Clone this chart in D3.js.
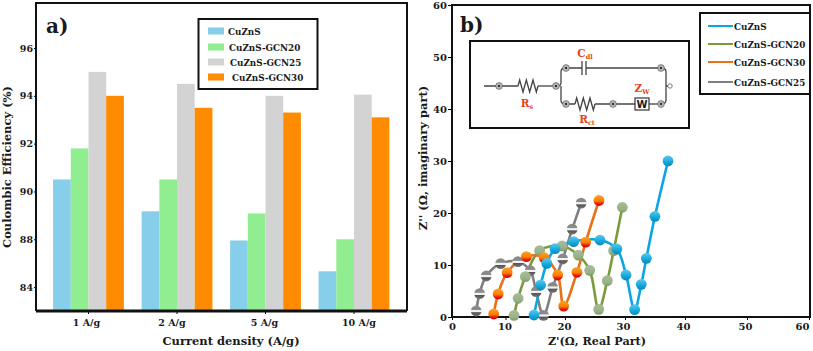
<!DOCTYPE html>
<html>
<head>
<meta charset="utf-8">
<script src="https://cdn.jsdelivr.net/npm/d3@7"></script>
<style>
  body { margin: 0; background: #fff; }
  svg { display: block; }
  text { font-family: "DejaVu Serif", serif; font-weight: bold; fill: #1a1a1a; }
</style>
</head>
<body>
<div id="chart"></div>
<script>
// Panel a data
const CATEGORIES = ["1 A/g", "2 A/g", "5 A/g", "10 A/g"];
const BAR_SERIES = ["CuZnS", "CuZnS-GCN20", "CuZnS-GCN25", "CuZnS-GCN30"];
const CUZNS_EFF = [90.5, 89.17, 87.95, 86.66];
const GCN20_EFF = [91.8, 90.5, 89.08, 88];
const GCN25_EFF = [95, 94.5, 94, 94.05];
const GCN30_EFF = [94, 93.5, 93.3, 93.1];
// the source figure prints 84 where 86 would sit
const Y_TICKS_A = [86, 88, 90, 92, 94, 96];
const Y_LABELS_A = ["84", "88", "90", "92", "94", "96"];

// Panel b data
const X_TICKS_B = [0, 10, 20, 30, 40, 50, 60];
const Y_TICKS_B = [0, 10, 20, 30, 40, 50, 60];
const LINE_LEGEND = ["CuZnS", "CuZnS-GCN20", "CuZnS-GCN30", "CuZnS-GCN25"];
const CUZNS_RE = [14.79, 15.9, 16.94, 18.33, 21.45, 25.83, 28.64, 30.17, 31.61, 32.71, 33.56, 34.99, 37.17];
const CUZNS_IM = [0.38, 6.15, 10.3, 13.14, 14.5, 14.8, 13.08, 8.08, 1.41, 6.28, 11.28, 19.36, 30];
const GCN20_RE = [11.44, 12.12, 13.34, 15.73, 19.51, 22.22, 24.12, 25.62, 27.05, 28.11, 29.56];
const GCN20_IM = [0.32, 3.6, 7.76, 12.76, 13.65, 11.9, 8.97, 1.47, 6.99, 12.76, 21.1];
const GCN30_RE = [7.8, 8.62, 10.28, 13.51, 16.5, 18.78, 19.78, 22.0, 23.45, 25.66];
const GCN30_IM = [0.58, 4.42, 8.53, 11.6, 11.4, 8.08, 2.1, 8.6, 14.4, 22.4];
const GCN25_RE = [4.52, 5.16, 6.4, 9.09, 12.08, 14.16, 15.15, 16.39, 17.93, 19.62, 21.2, 22.69];
const GCN25_IM = [1.15, 4.49, 7.88, 10.26, 10.64, 8.9, 4.87, 0.32, 5.7, 11.15, 16.9, 21.9];

const WIDTH = 813;
const HEIGHT = 351;
const BAR_COLORS = ["#87ceeb", "#90ee90", "#d3d3d3", "#ff8c00"];
const RED_TEXT = "#e8431a";

const svg = d3.select("#chart").append("svg")
  .attr("width", WIDTH)
  .attr("height", HEIGHT);

const defs = svg.append("defs");

function addGradient(id, stops) {
  const g = defs.append("linearGradient").attr("id", id)
    .attr("x1", 0).attr("y1", 0).attr("x2", 0).attr("y2", 1);
  stops.forEach(s => g.append("stop").attr("offset", s[0]).attr("stop-color", s[1]));
}
addGradient("markBlue", [[0, "#5fc8ee"], [0.6, "#12a8dc"], [1, "#0a86b8"]]);
addGradient("markGreen", [[0, "#a9bd98"], [0.7, "#98b088"], [1, "#7d9a5e"]]);
addGradient("markOrange", [[0, "#f5a623"], [0.55, "#ff7a00"], [0.8, "#e8140a"], [1, "#c80a0a"]]);
addGradient("markGrey", [[0, "#8a8a8a"], [0.38, "#8a8a8a"], [0.45, "#f2f2f2"], [0.58, "#f2f2f2"], [0.65, "#555"], [1, "#777"]]);

// ---- Panel a ----
const FRAME_A = {left: 36, right: 407, top: 3, bottom: 311};

const xA = d3.scaleBand()
  .domain(CATEGORIES)
  .range([44.25, 398.25])
  .paddingInner(0.2)
  .paddingOuter(0.1)
  .align(0.5);

const yA = d3.scaleLinear()
  .domain([96, 85])
  .range([48, FRAME_A.bottom]);

const xSub = d3.scaleBand()
  .domain(BAR_SERIES)
  .range([0, xA.bandwidth()]);

const barValues = [CUZNS_EFF, GCN20_EFF, GCN25_EFF, GCN30_EFF];

BAR_SERIES.forEach((name, i) => {
  svg.append("g").selectAll("rect")
    .data(barValues[i])
    .enter()
    .append("rect")
      .attr("x", (d, j) => xA(CATEGORIES[j]) + xSub(name))
      .attr("y", d => yA(d))
      .attr("width", xSub.bandwidth())
      .attr("height", d => FRAME_A.bottom - yA(d))
      .attr("fill", BAR_COLORS[i]);
});

const axisLeftA = svg.append("g")
  .attr("transform", "translate(" + FRAME_A.left + ",0)")
  .call(d3.axisLeft(yA)
    .tickValues(Y_TICKS_A)
    .tickFormat((d, i) => Y_LABELS_A[i])
    .tickSize(2)
    .tickPadding(1));
axisLeftA.select(".domain").remove();
axisLeftA.selectAll("text").attr("font-size", "9.5px");

const axisBottomA = svg.append("g")
  .attr("transform", "translate(0," + FRAME_A.bottom + ")")
  .call(d3.axisBottom(xA).tickSize(3).tickPadding(5));
axisBottomA.select(".domain").remove();
// labels sit slightly off their ticks in the source
const X_LABEL_SHIFT_A = [-2, -5, -1, 5];
axisBottomA.selectAll("text")
  .attr("font-size", "9.5px")
  .attr("dx", (d, i) => X_LABEL_SHIFT_A[i]);

svg.append("path")
  .attr("d", "M" + FRAME_A.left + "," + FRAME_A.bottom + "V" + FRAME_A.top + "H" + FRAME_A.right + "V" + FRAME_A.bottom)
  .attr("fill", "none").attr("stroke", "#111").attr("stroke-width", 2);
svg.append("line")
  .attr("x1", FRAME_A.left).attr("x2", FRAME_A.right)
  .attr("y1", FRAME_A.bottom).attr("y2", FRAME_A.bottom)
  .attr("stroke", "#111").attr("stroke-width", 3);

svg.append("text")
  .attr("transform", "translate(11,167) rotate(-90)")
  .attr("text-anchor", "middle")
  .attr("font-size", "11.5px")
  .attr("fill", "#3a2a20")
  .text("Coulombic Efficiency (%)");

svg.append("text")
  .attr("x", 231).attr("y", 345)
  .attr("text-anchor", "middle")
  .attr("font-size", "11.5px")
  .text("Current density (A/g)");

svg.append("text")
  .attr("x", 46).attr("y", 33)
  .attr("font-size", "20px")
  .text("a)");

// legend a
svg.append("rect")
  .attr("x", 198.5).attr("y", 19).attr("width", 119).attr("height", 70)
  .attr("fill", "#fff").attr("stroke", "#111").attr("stroke-width", 2);

const LEGEND_A_Y = [31, 47, 62, 77];
const LEGEND_A_TX = [228, 229, 230, 232];
BAR_SERIES.forEach((name, i) => {
  svg.append("rect")
    .attr("x", 208).attr("y", LEGEND_A_Y[i] - 3.5)
    .attr("width", 16).attr("height", 7)
    .attr("fill", BAR_COLORS[i]);
  svg.append("text")
    .attr("x", LEGEND_A_TX[i]).attr("y", LEGEND_A_Y[i] + 3.5)
    .attr("font-size", "8.8px")
    .text(name);
});

// ---- Panel b ----
const FRAME_B = {left: 452, right: 810, top: 5, bottom: 317};

// ticks in the source are not evenly spaced, so the x scale is piecewise
const xB = d3.scaleLinear().domain(X_TICKS_B).range([452, 505.5, 565, 625, 685, 747, 809]);
const yB = d3.scaleLinear().domain([0, 60]).range([FRAME_B.bottom, FRAME_B.top]);

const axisLeftB = svg.append("g")
  .attr("transform", "translate(" + FRAME_B.left + ",0)")
  .call(d3.axisLeft(yB).tickValues(Y_TICKS_B).tickSize(4).tickPadding(1));
axisLeftB.select(".domain").remove();
axisLeftB.selectAll("text").attr("font-size", "10px");

const axisBottomB = svg.append("g")
  .attr("transform", "translate(0," + FRAME_B.bottom + ")")
  .call(d3.axisBottom(xB).tickValues(X_TICKS_B).tickSize(3).tickPadding(3));
axisBottomB.select(".domain").remove();
const X_LABEL_SHIFT_B = [0, -1, -1, -2, -2, -2, -7];
axisBottomB.selectAll("text")
  .attr("font-size", "10px")
  .attr("dx", (d, i) => X_LABEL_SHIFT_B[i]);

svg.append("path")
  .attr("d", "M" + FRAME_B.left + "," + FRAME_B.bottom + "V" + FRAME_B.top + "H" + FRAME_B.right + "V" + FRAME_B.bottom + "Z")
  .attr("fill", "none").attr("stroke", "#111").attr("stroke-width", 2);

svg.append("text")
  .attr("transform", "translate(427,158) rotate(-90)")
  .attr("text-anchor", "middle")
  .attr("font-size", "11.5px")
  .text("Z'' (Ω, imaginary part)");

svg.append("text")
  .attr("x", 597).attr("y", 345)
  .attr("text-anchor", "middle")
  .attr("font-size", "11.2px")
  .text("Z'(Ω, Real Part)");

svg.append("text")
  .attr("x", 460).attr("y", 32)
  .attr("font-size", "20px")
  .text("b)");

const curves = [
  {re: GCN25_RE, im: GCN25_IM, color: "#7f7f7f", mark: "markGrey"},
  {re: GCN20_RE, im: GCN20_IM, color: "#7a9a3c", mark: "markGreen"},
  {re: GCN30_RE, im: GCN30_IM, color: "#e8701a", mark: "markOrange"},
  {re: CUZNS_RE, im: CUZNS_IM, color: "#0aa5e6", mark: "markBlue"}
];

const line = d3.line()
  .x(d => xB(d[0]))
  .y(d => yB(d[1]))
  .curve(d3.curveCatmullRom.alpha(0.5));

curves.forEach(c => {
  svg.append("path")
    .datum(d3.zip(c.re, c.im))
    .attr("d", line)
    .attr("fill", "none")
    .attr("stroke", c.color)
    .attr("stroke-width", 2.6);
});

curves.forEach(c => {
  svg.append("g").selectAll("circle")
    .data(d3.zip(c.re, c.im))
    .enter()
    .append("circle")
      .attr("cx", d => xB(d[0]))
      .attr("cy", d => yB(d[1]))
      .attr("r", 5.4)
      .attr("fill", "url(#" + c.mark + ")");
});

// legend b
svg.append("rect")
  .attr("x", 700).attr("y", 13).attr("width", 110).attr("height", 81)
  .attr("fill", "#fff").attr("stroke", "#111").attr("stroke-width", 2);

const LEGEND_B_Y = [26, 44, 62, 82];
const LEGEND_B_COLORS = ["#0aa5e6", "#7a9a3c", "#e8701a", "#7f7f7f"];
LINE_LEGEND.forEach((name, i) => {
  svg.append("line")
    .attr("x1", 708).attr("x2", 733)
    .attr("y1", LEGEND_B_Y[i]).attr("y2", LEGEND_B_Y[i])
    .attr("stroke", LEGEND_B_COLORS[i]).attr("stroke-width", 2);
  svg.append("text")
    .attr("x", 734).attr("y", LEGEND_B_Y[i] + 3.5)
    .attr("font-size", "8.8px")
    .text(name);
});

// ---- circuit inset ----
const inset = svg.append("g");
inset.append("rect")
  .attr("x", 470).attr("y", 41).attr("width", 219).attr("height", 87)
  .attr("fill", "#fff").attr("stroke", "#111").attr("stroke-width", 2);

function wire(d) {
  inset.append("path").attr("d", d)
    .attr("fill", "none").attr("stroke", "#444").attr("stroke-width", 1.3);
}
function node(x, y) {
  inset.append("circle").attr("cx", x).attr("cy", y).attr("r", 3.4)
    .attr("fill", "#b5b5b5").attr("stroke", "#555").attr("stroke-width", 0.6);
  inset.append("circle").attr("cx", x).attr("cy", y).attr("r", 1.1).attr("fill", "#111");
}
function resistor(x0, x1, y) {
  const n = 6, s = (x1 - x0) / n;
  let d = "M" + x0 + "," + y;
  for (let i = 0; i < n; i++) {
    d += "L" + (x0 + s * (i + 0.5)) + "," + (y + (i % 2 ? 6 : -6));
  }
  wire(d + "L" + x1 + "," + y);
}
function redLabel(x, y, main, sub) {
  const t = inset.append("text").attr("x", x).attr("y", y)
    .attr("text-anchor", "middle").attr("font-size", "10.5px").style("fill", RED_TEXT);
  t.append("tspan").text(main);
  t.append("tspan").attr("font-size", "6.5px").attr("dy", 2).text(sub);
}

wire("M484,86H518");
resistor(518, 538, 86);
wire("M538,86H556");
wire("M556,86H558Q561,86 561,82V72Q561,68 565,68H582");
wire("M561,86V100Q561,104 565,104H575");
wire("M582,61V75M586,61V75");
wire("M586,68H661");
resistor(575, 595, 104);
wire("M595,104H635");
wire("M649,104H661");
wire("M661,68Q666,68 666,72V100Q666,104 661,104");
wire("M666,86H668");
inset.append("rect").attr("x", 635).attr("y", 98).attr("width", 14).attr("height", 12)
  .attr("fill", "#fff").attr("stroke", "#333").attr("stroke-width", 1.2);
inset.append("text").attr("x", 642).attr("y", 108).attr("text-anchor", "middle")
  .attr("font-size", "10px").style("font-family", "'DejaVu Sans', sans-serif").text("W");
[[499, 86], [556, 86], [566, 68], [661, 68], [566, 104], [613, 104], [661, 104]].forEach(p => node(p[0], p[1]));
inset.append("circle").attr("cx", 670).attr("cy", 86).attr("r", 2.2)
  .attr("fill", "#fff").attr("stroke", "#777");
redLabel(585, 57, "C", "dl");
redLabel(527, 107, "R", "s");
redLabel(587, 123, "R", "ct");
redLabel(642, 92, "Z", "W");
</script>
</body>
</html>
